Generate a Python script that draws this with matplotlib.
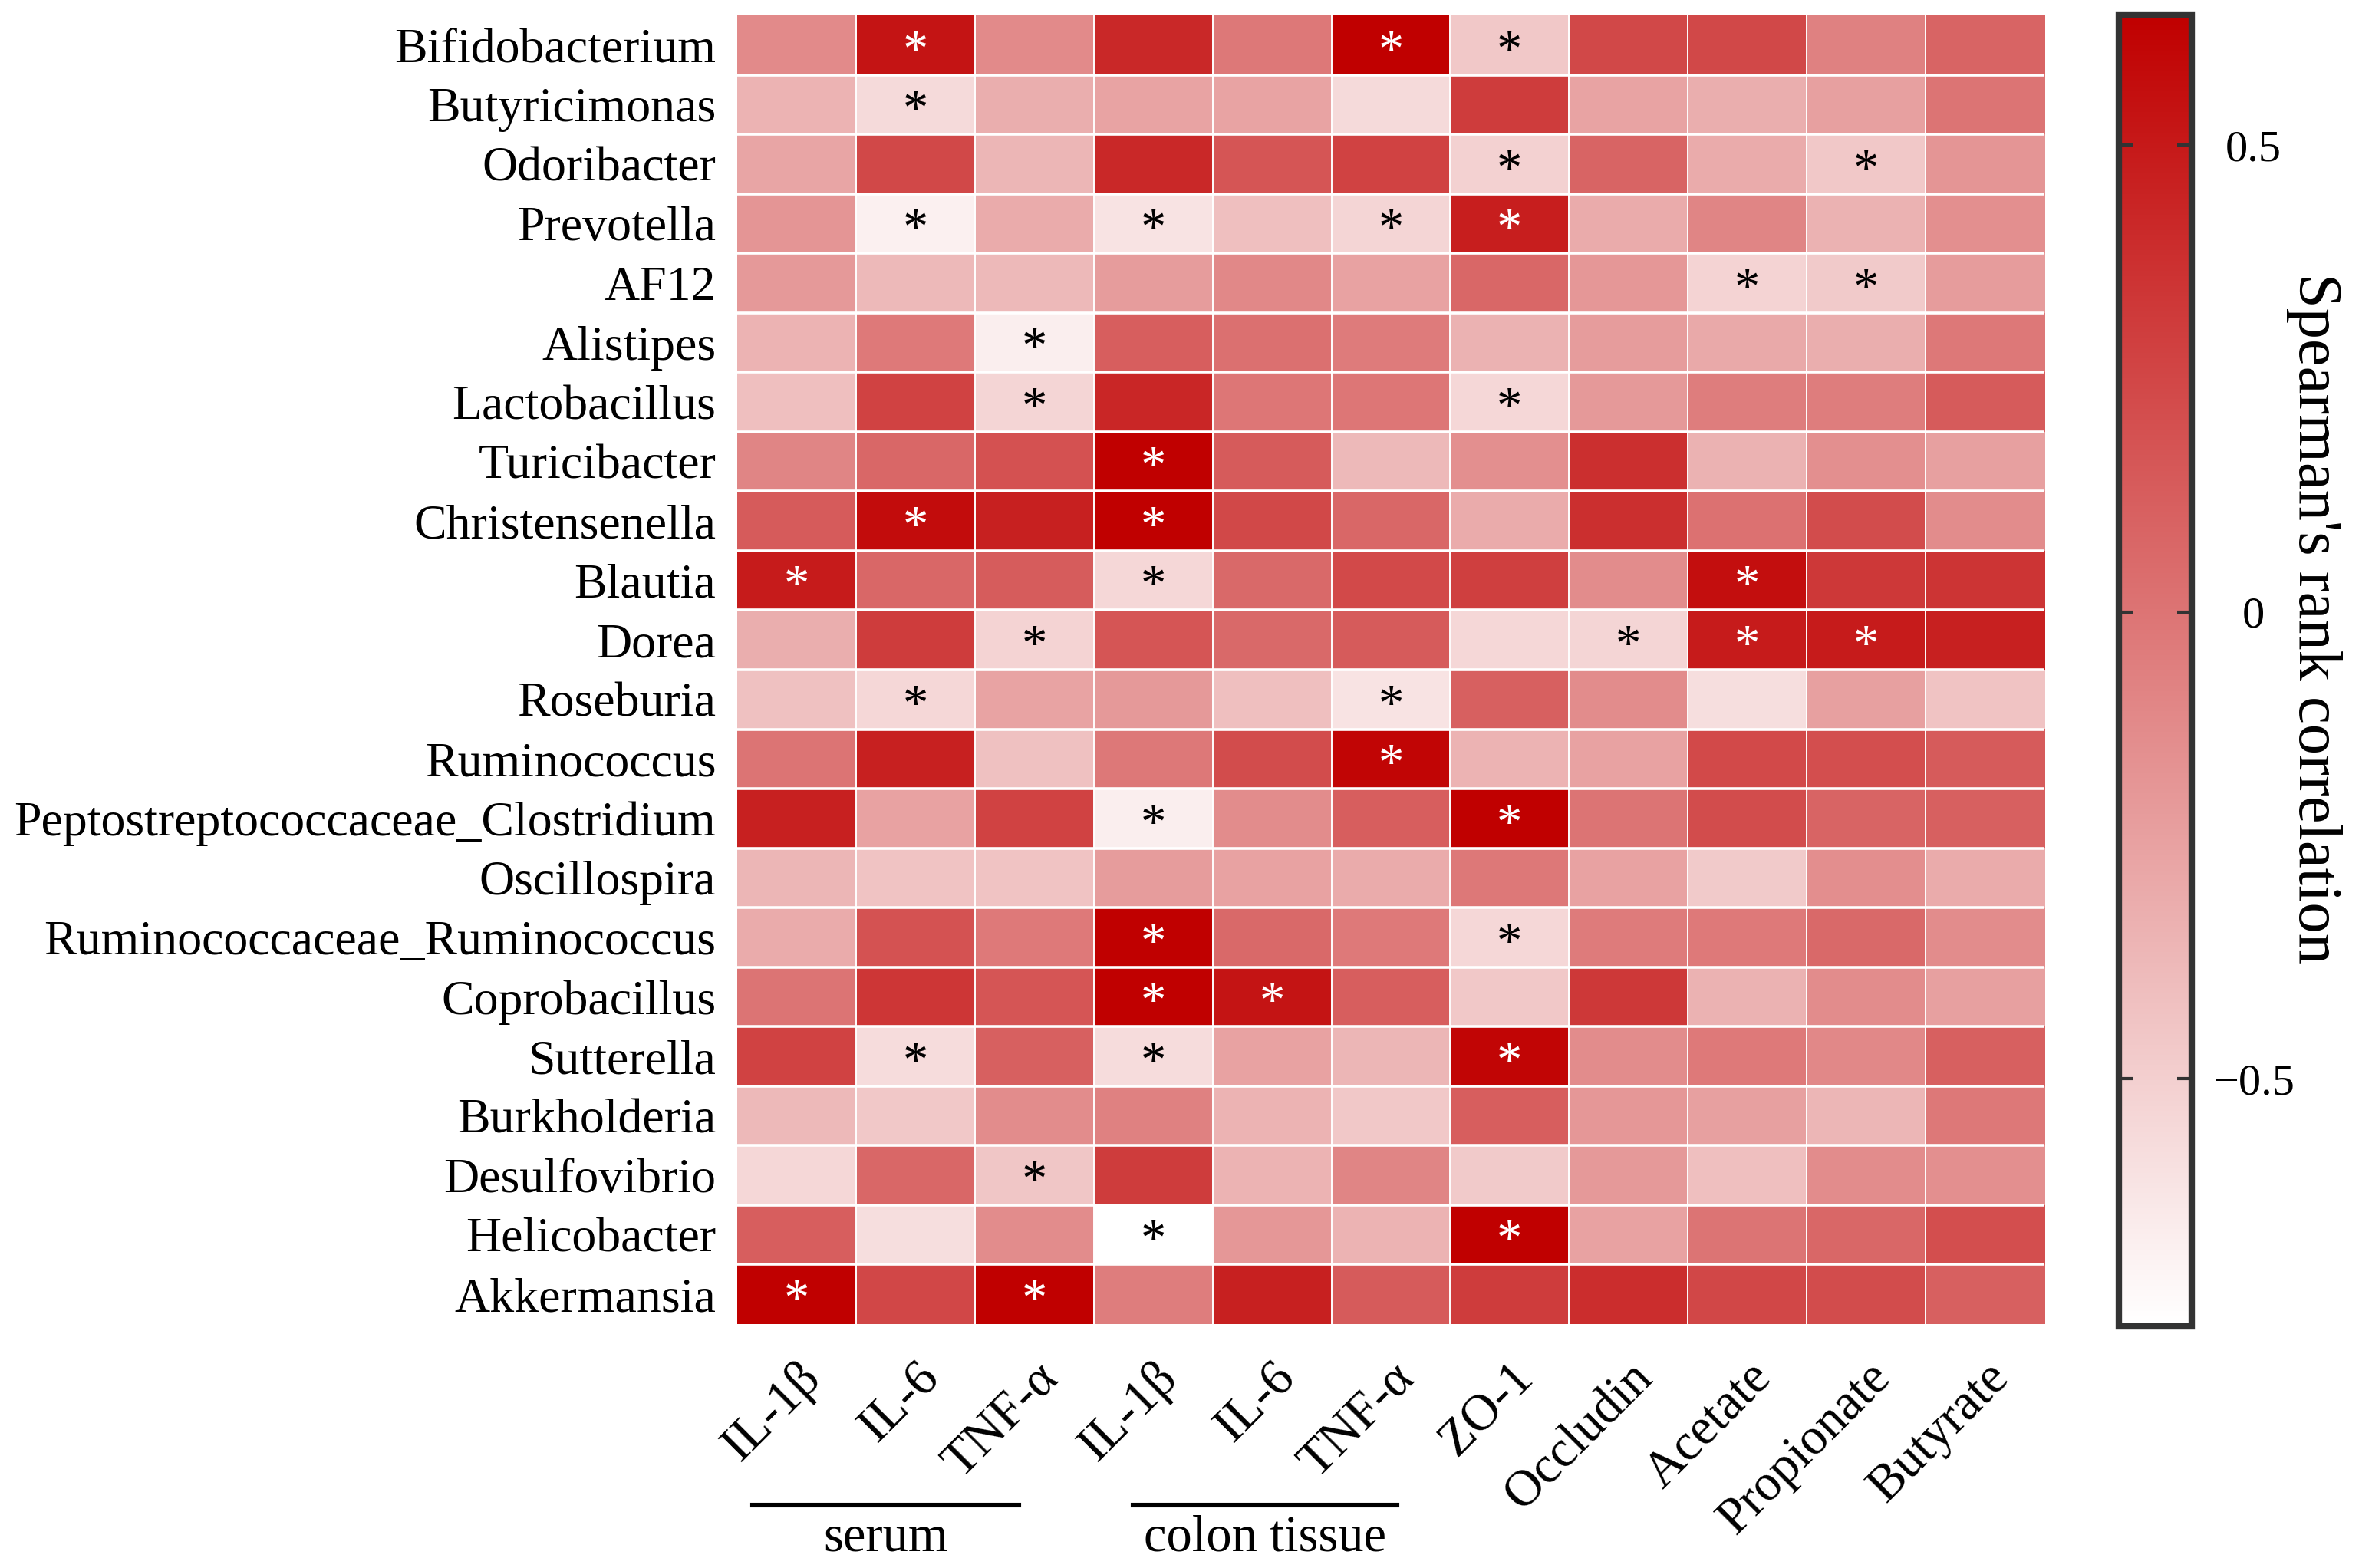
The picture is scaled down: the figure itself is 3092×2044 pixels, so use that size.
import matplotlib
matplotlib.use("Agg")
import matplotlib.pyplot as plt
import numpy as np
from matplotlib.colors import LinearSegmentedColormap
from matplotlib.transforms import blended_transform_factory

plt.rcParams['font.family'] = ['Liberation Serif', 'DejaVu Serif']

genera = ["Bifidobacterium", "Butyricimonas", "Odoribacter", "Prevotella", "AF12",
          "Alistipes", "Lactobacillus", "Turicibacter", "Christensenella", "Blautia",
          "Dorea", "Roseburia", "Ruminococcus", "Peptostreptococcaceae_Clostridium",
          "Oscillospira", "Ruminococcaceae_Ruminococcus", "Coprobacillus", "Sutterella",
          "Burkholderia", "Desulfovibrio", "Helicobacter", "Akkermansia"]

markers = ["IL-1β", "IL-6", "TNF-α", "IL-1β", "IL-6", "TNF-α", "ZO-1",
           "Occludin", "Acetate", "Propionate", "Butyrate"]

rho = np.array([
    [-0.12, 0.53, -0.12, 0.42, -0.02, 0.64, -0.46, 0.24, 0.24, -0.07, 0.09],
    [-0.35, -0.56, -0.32, -0.26, -0.26, -0.56, 0.31, -0.26, -0.32, -0.24, 0.00],
    [-0.27, 0.24, -0.36, 0.42, 0.17, 0.27, -0.51, 0.09, -0.30, -0.46, -0.18],
    [-0.18, -0.68, -0.30, -0.61, -0.41, -0.53, 0.47, -0.30, -0.09, -0.34, -0.15],
    [-0.20, -0.38, -0.38, -0.22, -0.11, -0.25, 0.07, -0.19, -0.52, -0.47, -0.22],
    [-0.35, -0.03, -0.67, 0.12, 0.02, -0.04, -0.34, -0.22, -0.29, -0.32, -0.02],
    [-0.41, 0.27, -0.53, 0.43, -0.01, -0.01, -0.54, -0.20, -0.05, -0.05, 0.14],
    [-0.09, 0.07, 0.19, 0.64, 0.14, -0.38, -0.15, 0.38, -0.34, -0.15, -0.24],
    [0.14, 0.57, 0.46, 0.64, 0.24, 0.07, -0.30, 0.38, 0.01, 0.22, -0.13],
    [0.49, 0.07, 0.13, -0.54, 0.06, 0.23, 0.29, -0.13, 0.56, 0.33, 0.35],
    [-0.32, 0.31, -0.52, 0.17, 0.06, 0.14, -0.54, -0.53, 0.49, 0.49, 0.46],
    [-0.42, -0.54, -0.26, -0.20, -0.41, -0.61, 0.11, -0.13, -0.58, -0.24, -0.44],
    [0.00, 0.46, -0.42, -0.02, 0.22, 0.61, -0.35, -0.25, 0.23, 0.21, 0.14],
    [0.46, -0.25, 0.27, -0.67, -0.13, 0.12, 0.64, 0.00, 0.22, 0.09, 0.11],
    [-0.36, -0.44, -0.44, -0.22, -0.25, -0.30, -0.02, -0.25, -0.47, -0.14, -0.30],
    [-0.30, 0.18, -0.03, 0.64, 0.06, -0.03, -0.54, -0.04, -0.03, 0.06, -0.13],
    [0.00, 0.34, 0.17, 0.64, 0.53, 0.12, -0.46, 0.33, -0.34, -0.13, -0.24],
    [0.27, -0.57, 0.11, -0.57, -0.25, -0.36, 0.61, -0.13, -0.03, -0.11, 0.11],
    [-0.38, -0.46, -0.13, -0.07, -0.35, -0.46, 0.12, -0.19, -0.24, -0.36, -0.02],
    [-0.54, 0.07, -0.45, 0.31, -0.35, -0.09, -0.47, -0.20, -0.41, -0.13, -0.15],
    [0.12, -0.58, -0.13, -0.765, -0.19, -0.35, 0.64, -0.25, 0.00, 0.07, 0.21],
    [0.64, 0.25, 0.64, -0.05, 0.46, 0.14, 0.31, 0.39, 0.25, 0.22, 0.11],
])

# (row, col) of significant correlations
signif = [(0, 1), (0, 5), (0, 6), (1, 1), (2, 6), (2, 9), (3, 1), (3, 3), (3, 5), (3, 6),
          (4, 8), (4, 9), (5, 2), (6, 2), (6, 6), (7, 3), (8, 1), (8, 3),
          (9, 0), (9, 3), (9, 8), (10, 2), (10, 7), (10, 8), (10, 9), (11, 1), (11, 5),
          (12, 5), (13, 3), (13, 6), (15, 3), (15, 6), (16, 3), (16, 4),
          (17, 1), (17, 3), (17, 6), (19, 2), (20, 3), (20, 6), (21, 0), (21, 2)]

groups = ["serum", "colon tissue"]
group_span = [(0.13, 2.37), (3.33, 5.55)]

vmin, vmax = -0.765, 0.64
cmap = LinearSegmentedColormap.from_list("wr", ["#FFFFFF", "#C00000"])

fig = plt.figure(figsize=(15.46, 10.22), dpi=200)
ax = fig.add_axes([0.3108, 0.1556, 0.5511, 0.8346])

nr, nc = rho.shape
im = ax.imshow(rho, cmap=cmap, vmin=vmin, vmax=vmax, aspect='auto',
               extent=(0, nc, nr, 0), interpolation='nearest')
for i in range(1, nr):
    ax.axhline(i, color='white', lw=1.3)
for j in range(1, nc):
    ax.axvline(j, color='white', lw=0.7)

for (r, c) in signif:
    col = 'white' if rho[r, c] > 0.2 else 'black'
    ax.text(c + 0.5, r + 0.62, "*", ha='center', va='center', fontsize=24, color=col)

ax.set_xlim(0, nc)
ax.set_ylim(nr, 0)
ax.set_yticks(np.arange(nr) + 0.5)
ax.set_yticklabels(genera, fontsize=23)
ax.set_xticks(np.arange(nc) + 0.5)
ax.set_xticklabels(markers, fontsize=24, rotation=45, ha='right', rotation_mode='anchor')
ax.tick_params(length=0, pad=10)
ax.tick_params(axis='x', pad=14)
for s in ax.spines.values():
    s.set_visible(False)

trans = blended_transform_factory(ax.transData, fig.transFigure)
for name, (x0, x1) in zip(groups, group_span):
    ax.plot([x0, x1], [0.040, 0.040], color='black', lw=2.2, transform=trans, clip_on=False)
    ax.text((x0 + x1) / 2, 0.019, name, ha='center', va='center', fontsize=24, transform=trans)

cax = fig.add_axes([0.8933, 0.1541, 0.0307, 0.8366])
cb = fig.colorbar(im, cax=cax)
cb.outline.set_edgecolor('#333333')
cb.outline.set_linewidth(3)
cb.set_ticks([-0.5, 0, 0.5])
cb.set_ticklabels(["−0.5", "0", "0.5"])
cax.tick_params(direction='in', left=True, right=True, length=7, width=1.5,
                color='#333333', labelsize=21, pad=29)
for t in cax.get_yticklabels():
    t.set_ha('center')
cax.text(2.68, 0.54, "Spearman's rank correlation", rotation=270, ha='center', va='center',
         fontsize=29, transform=cax.transAxes)

fig.savefig("out.png", dpi=200)
